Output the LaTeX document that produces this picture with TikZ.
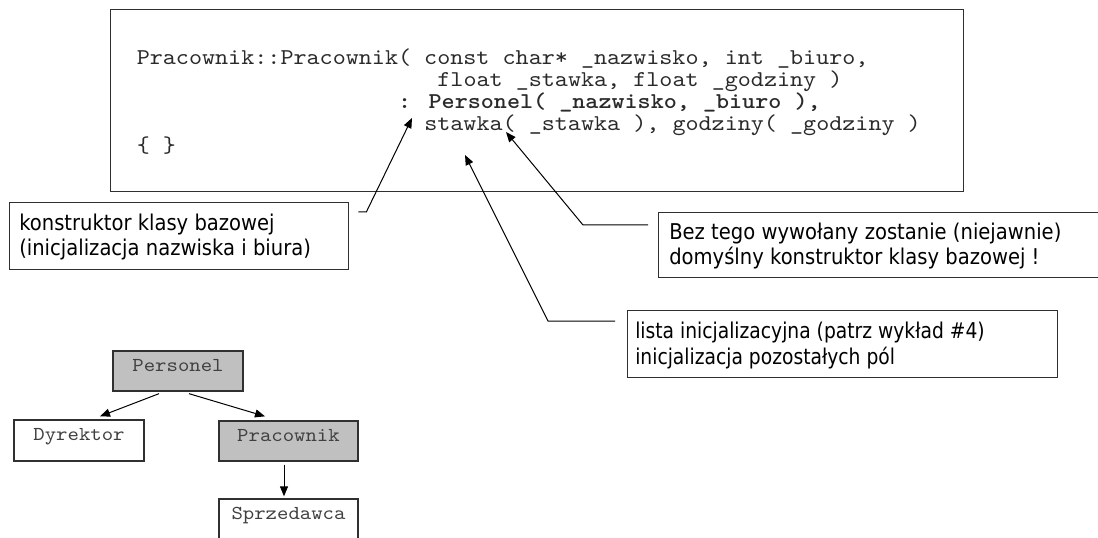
\documentclass[tikz,border=0pt]{standalone}
\usepackage{fontspec}
\usetikzlibrary{arrows.meta,calc}
\newfontfamily\callfont[FakeStretch=0.9]{DejaVu Sans}
\newfontfamily\callfontn[FakeStretch=0.86]{DejaVu Sans}
\newfontfamily\codefont[Extension=.otf, UprightFont=lmmono10-regular, BoldFont=lmmonolt10-bold, FakeStretch=1.1]{lmmono10-regular}
\definecolor{linec}{HTML}{303030}
\definecolor{codec}{HTML}{2A2A2A}
\definecolor{treec}{HTML}{404040}
\definecolor{boxfill}{HTML}{C0C0C0}
\tikzset{
  frame/.style={draw=linec, line width=1pt, inner sep=0pt, anchor=north west},
  codeline/.style={anchor=base west, inner sep=0pt, text=codec, font=\codefont\fontsize{16.97pt}{19pt}\selectfont},
  callline/.style={anchor=base west, inner sep=0pt, text=black, font=\callfont\fontsize{16.3pt}{19pt}\selectfont},
  calllinen/.style={anchor=base west, inner sep=0pt, text=black, font=\callfontn\fontsize{16.3pt}{19pt}\selectfont},
  classbox/.style={draw=linec, line width=1pt, inner sep=0pt, text=treec,
    minimum width=139*0.75pt, minimum height=40.5*0.75pt, text height=6pt, text depth=6pt,
    font=\codefont\fontsize{14.8pt}{17pt}\selectfont},
  leader/.style={draw=black, line width=0.75pt, -{Triangle[length=7.5pt,width=6pt]}},
  treearrow/.style={draw=black, line width=0.75pt, -{Triangle[length=7.5pt,width=6pt]}}
}
\begin{document}
\begin{tikzpicture}[x=0.75pt,y=-0.75pt]
\useasboundingbox (0,0) rectangle (1098,538);

% code box
\node[frame, minimum width=853*0.75pt, minimum height=182*0.75pt] (codebox) at (110,9) {};
\node[codeline] (c1) at (136.5,64.5) {Pracownik::Pracownik( const char* \_nazwisko, int \_biuro,};
\node[codeline] (c2) at (437.1,86.5) {float \_stawka, float \_godziny )};
\node[codeline] (c3) at (397.9,108.5) {\bfseries : Personel( \_nazwisko, \_biuro ),};
\node[codeline] (c4) at (424.0,130.5) {stawka( \_stawka ), godziny( \_godziny )};
\node[codeline] (c5) at (136.5,152.5) {\{ \}};

% callout boxes
\node[frame, minimum width=339*0.75pt, minimum height=67*0.75pt] (kb) at (9,202) {};
\node[callline] (kb1) at (19,230) {konstruktor klasy bazowej};
\node[callline] (kb2) at (19,255) {(inicjalizacja nazwiska i biura)};

\node[frame, minimum width=460*0.75pt, minimum height=65*0.75pt] (bez) at (658,212) {};
\node[callline] (bez1) at (669,239) {Bez tego wywołany zostanie (niejawnie)};
\node[callline] (bez2) at (669,264.5) {domyślny konstruktor klasy bazowej !};

\node[frame, minimum width=430*0.75pt, minimum height=67*0.75pt] (lista) at (627,310) {};
\node[calllinen] (lista1) at (635,338.5) {lista inicjalizacyjna (patrz wykład \#4)};
\node[calllinen] (lista2) at (635,364) {inicjalizacja pozostałych pól};

% arrow tips
\coordinate (tipA) at (412,118);
\coordinate (tipB) at (506,132);
\coordinate (tipC) at (465,155);

\draw[leader] ($(kb.north east)+(9,10)$) -- ++(8,0) -- (tipA);
\draw[leader] ($(bez.north west)+(-10,13)$) -- ++(-65,0) -- (tipB);
\draw[leader] ($(lista.north west)+(-12,11)$) -- ++(-67,0) -- (tipC);

% class tree
\node[classbox, fill=boxfill, minimum width=130*0.75pt, minimum height=40*0.75pt] (pers) at (178,371) {Personel};
\node[classbox, minimum width=130*0.75pt, minimum height=41*0.75pt] (dyr) at (79,440.5) {Dyrektor};
\node[classbox, fill=boxfill, minimum height=40*0.75pt] (prac) at (288.5,441) {Pracownik};
\node[classbox, minimum height=41*0.75pt] (sprz) at (288.5,519.5) {Sprzedawca};

\draw[treearrow] ($(pers.south)+(-19,2)$) -- ($(dyr.north)+(21,-3)$);
\draw[treearrow] ($(pers.south)+(11,2)$) -- ($(prac.north)+(-23.5,-4)$);
\draw[treearrow] ($(prac.south)+(-4.5,3)$) -- ($(sprz.north)+(-4.5,-2)$);
\end{tikzpicture}
\end{document}
